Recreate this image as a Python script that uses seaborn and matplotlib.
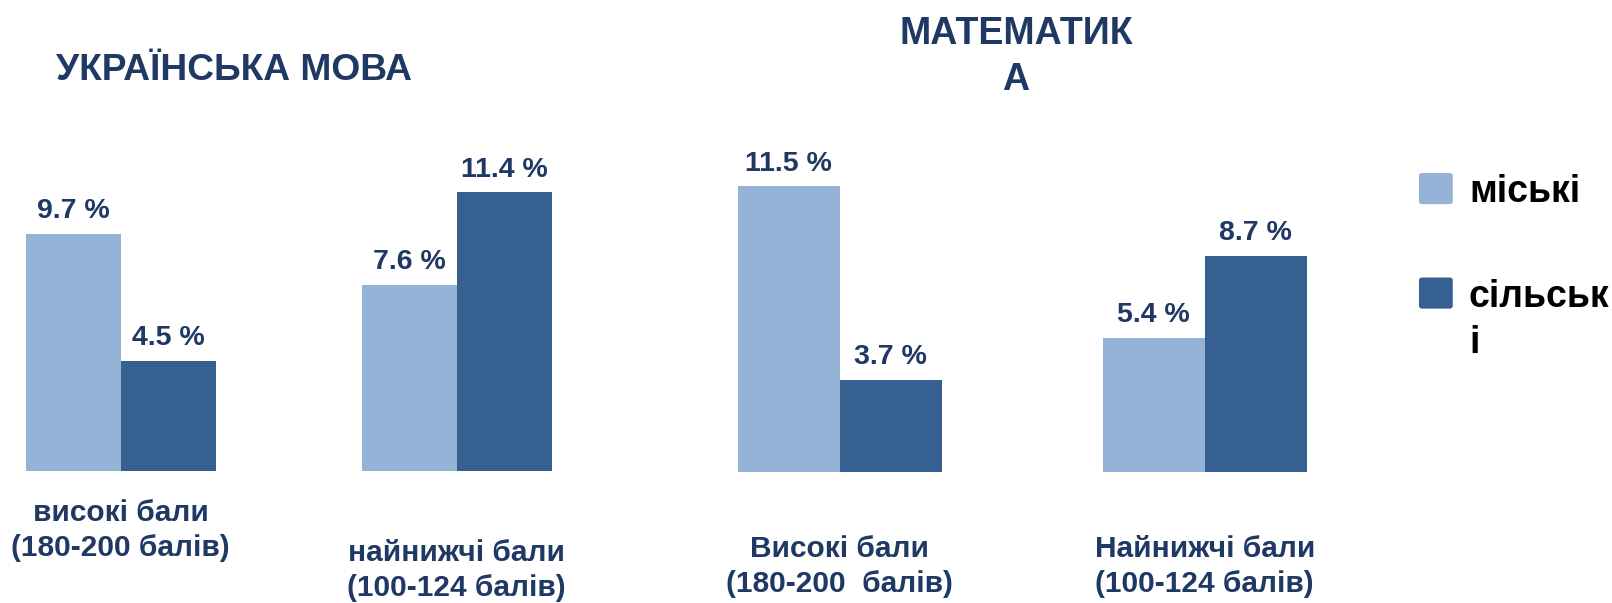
import pandas as pd
import seaborn as sns
import matplotlib.pyplot as plt
from matplotlib.patches import FancyBboxPatch
from matplotlib.legend_handler import HandlerPatch

# 1. Data
areas = ["міські", "сільські"]
legend_labels = ["міські", "сільськ\nі"]

ua_categories = ["високі бали\n(180-200 балів)", "найнижчі бали\n(100-124 балів)"]
ua_urban = [9.7, 7.6]
ua_rural = [4.5, 11.4]

math_categories = ["Високі бали\n(180-200  балів)", "Найнижчі бали\n(100-124 балів)"]
math_urban = [11.5, 5.4]
math_rural = [3.7, 8.7]


def long_frame(categories, urban, rural):
    return pd.DataFrame({
        "category": categories * 2,
        "area": [areas[0]] * len(categories) + [areas[1]] * len(categories),
        "value": urban + rural,
    })


df_ua = long_frame(ua_categories, ua_urban, ua_rural)
df_math = long_frame(math_categories, math_urban, math_rural)

# Style
sns.set_theme(style="white")
plt.rcParams["font.family"] = ["Liberation Sans", "DejaVu Sans"]
navy = "#1F3864"
palette = {"міські": "#95B3D7", "сільські": "#376092"}

W, H = 1612, 603
fig = plt.figure(figsize=(W / 100, H / 100), dpi=100)

# axes placed in pixels: (left, bottom, width, height)
ax1 = fig.add_axes([3 / W, 132.5 / H, 605 / W, 366 / H])
ax2 = fig.add_axes([712 / W, 131 / H, 657 / W, 372.75 / H])

setups = [
    (ax1, df_ua, ua_categories, 0.565, [20.5, 49.5], False),
    (ax2, df_math, math_categories, 0.56, [45.5, 45.5], True),
]

for ax, df, cats, width, pads, show_legend in setups:
    sns.barplot(
        data=df, x="category", y="value", hue="area",
        order=cats, hue_order=areas, palette=palette,
        width=width, saturation=1, linewidth=0, ax=ax, legend=show_legend,
    )
    for container in ax.containers:
        ax.bar_label(container, fmt="{:.1f} %", padding=7,
                     fontsize=20.5, fontweight="bold", color=navy)
    ax.set_xlim(-0.35, 1.45)
    ax.set_ylim(0, 15)
    ax.set_xticks([])
    ax.set_yticks([])
    ax.set_xlabel("")
    ax.set_ylabel("")
    for spine in ax.spines.values():
        spine.set_visible(False)
    ax.patch.set_alpha(0)
    # category labels under each group
    for i, (cat, pad) in enumerate(zip(cats, pads)):
        ax.annotate(cat, xy=(i, 0), xycoords=("data", "axes fraction"),
                    xytext=(0, -pad), textcoords="offset points",
                    ha="center", va="top", fontsize=21.5,
                    fontweight="bold", color=navy, linespacing=1.3)


# Legend squares with slightly rounded corners; the second one lifted to its first text line
def rounded_square(shift):
    def make(legend, orig_handle, xdescent, ydescent, width, height, fontsize):
        return FancyBboxPatch((-xdescent, -ydescent + shift), width, height,
                              boxstyle="round,pad=0,rounding_size=2")
    return make


handles, _ = ax2.get_legend_handles_labels()
ax2.get_legend().remove()
leg = fig.legend(
    handles, legend_labels,
    loc="upper left", bbox_to_anchor=(1419 / W, 1 - 173 / H),
    frameon=False, borderpad=0, borderaxespad=0,
    handlelength=0.9, handleheight=0.9, handletextpad=0.43,
    labelspacing=1.85, prop={"size": 27, "weight": "bold"},
    handler_map={handles[0]: HandlerPatch(patch_func=rounded_square(0)),
                 handles[1]: HandlerPatch(patch_func=rounded_square(20))},
)
for t in leg.get_texts():
    t.set_linespacing(1.35)
    t.set_color("black")

# Subject titles
fig.text(234 / W, 1 - 70 / H, "УКРАЇНСЬКА МОВА", ha="center", va="center",
         fontsize=26.7, fontweight="bold", color=navy)
fig.text(1016 / W, 1 - 57 / H, "МАТЕМАТИК\nА", ha="center", va="center",
         fontsize=27, fontweight="bold", color=navy, linespacing=1.33)

fig.savefig("out.png", dpi=100)
